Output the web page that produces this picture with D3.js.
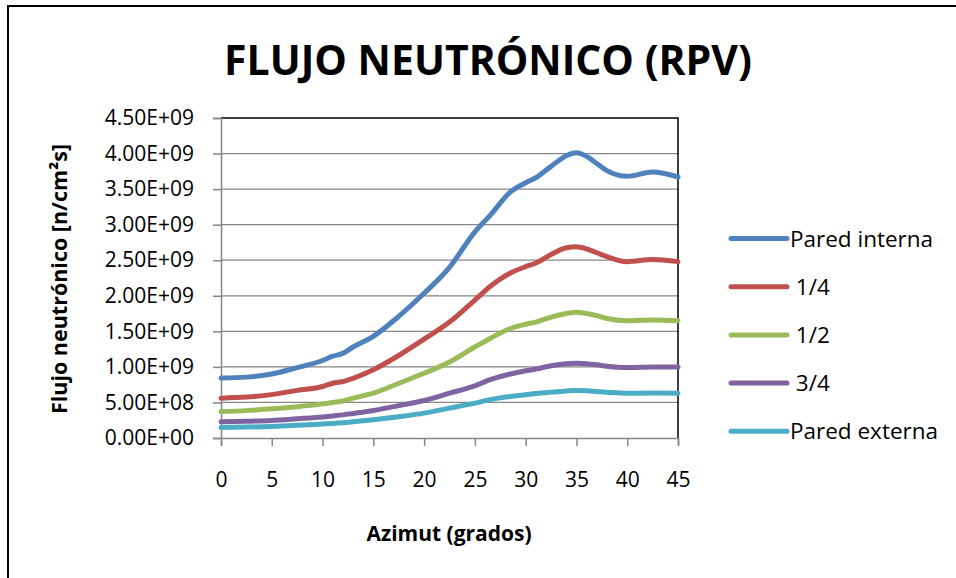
<!DOCTYPE html>
<html lang="es">
<head>
<meta charset="utf-8">
<title>Flujo neutronico</title>
<script src="https://d3js.org/d3.v7.min.js"></script>
<style>
  body { margin: 0; background: #fff; }
  text { font-family: "Open Sans", sans-serif; fill: #000; }
</style>
</head>
<body>
<div id="chart"></div>
<script>
// azimut (grados)
var azimut = [0, 2.5, 5, 7.5, 10, 11, 12, 13, 15, 17.5, 20, 22.5, 25, 26.5, 28.5, 30, 31, 32.5, 34, 35, 36, 37, 38, 40, 42.5, 45];

// flujo en unidades de 1E9 n/cm2s
var paredInterna = [0.842, 0.856, 0.90, 0.99, 1.09, 1.15, 1.19, 1.28, 1.43, 1.71, 2.035, 2.40, 2.90, 3.13, 3.46, 3.59, 3.66, 3.82, 3.97, 4.01, 3.96, 3.86, 3.76, 3.68, 3.74, 3.67];
var cuarto = [0.56, 0.575, 0.61, 0.67, 0.724, 0.77, 0.795, 0.84, 0.96, 1.16, 1.39, 1.63, 1.94, 2.13, 2.32, 2.41, 2.46, 2.58, 2.675, 2.69, 2.66, 2.605, 2.55, 2.48, 2.51, 2.48];
var medio = [0.373, 0.385, 0.41, 0.44, 0.48, 0.50, 0.52, 0.56, 0.63, 0.77, 0.91, 1.07, 1.28, 1.40, 1.54, 1.60, 1.63, 1.70, 1.75, 1.77, 1.75, 1.72, 1.68, 1.65, 1.66, 1.65];
var tresCuartos = [0.229, 0.235, 0.247, 0.27, 0.295, 0.31, 0.325, 0.345, 0.387, 0.455, 0.528, 0.63, 0.734, 0.82, 0.90, 0.945, 0.97, 1.015, 1.045, 1.05, 1.045, 1.03, 1.01, 0.99, 1.0, 1.0];
var paredExterna = [0.149, 0.153, 0.163, 0.178, 0.197, 0.205, 0.215, 0.228, 0.257, 0.30, 0.35, 0.42, 0.49, 0.54, 0.584, 0.608, 0.625, 0.645, 0.662, 0.668, 0.665, 0.655, 0.645, 0.63, 0.632, 0.63];

var seriesNames = ["Pared interna", " 1/4", " 1/2", " 3/4", "Pared externa"];
var seriesColors = ["#4F81BD", "#C0504D", "#9BBB59", "#8064A2", "#4BACC6"];
var xTicks = [0, 5, 10, 15, 20, 25, 30, 35, 40, 45];
var yTicks = [0, 0.5e9, 1e9, 1.5e9, 2e9, 2.5e9, 3e9, 3.5e9, 4e9, 4.5e9];

var width = 956, height = 578;
var plotLeft = 221, plotRight = 678, plotTop = 118, plotBottom = 438;

var svg = d3.select("#chart").append("svg")
  .attr("width", width)
  .attr("height", height);

// outer chart border
svg.append("rect")
  .attr("x", 8).attr("y", 6)
  .attr("width", 1000).attr("height", 700)
  .attr("fill", "none")
  .attr("stroke", "#000")
  .attr("stroke-width", 2);

var x = d3.scaleLinear().domain([0, 45]).range([plotLeft, plotRight]);
var y = d3.scaleLinear().domain([0, 4.5e9]).range([plotBottom, plotTop]);

// gridlines
svg.append("g")
  .selectAll("line")
  .data(yTicks.slice(1, -1))
  .enter()
  .append("line")
  .attr("x1", plotLeft).attr("x2", plotRight)
  .attr("y1", function(d) { return y(d); })
  .attr("y2", function(d) { return y(d); })
  .attr("stroke", "#868686")
  .attr("stroke-width", 1.3);

// top and right of plot area
svg.append("path")
  .attr("d", "M" + plotLeft + "," + y(4.5e9) + "H" + plotRight + "V" + plotBottom)
  .attr("fill", "none")
  .attr("stroke", "#000")
  .attr("stroke-width", 1.5);

var fmt = function(d) {
  return d3.format(".2e")(d).replace("e", "E").replace(/E([+-])(\d)$/, "E$10$2");
};

var yAxis = svg.append("g")
  .attr("transform", "translate(" + plotLeft + ",0)")
  .call(d3.axisLeft(y).tickValues(yTicks).tickSize(8).tickPadding(19).tickFormat(fmt));

var xAxis = svg.append("g")
  .attr("transform", "translate(0," + plotBottom + ")")
  .call(d3.axisBottom(x).tickValues(xTicks).tickSize(8).tickPadding(26));

[xAxis, yAxis].forEach(function(a) {
  a.select(".domain").attr("stroke", "#868686").attr("stroke-width", 1.5);
  a.selectAll(".tick line").attr("stroke", "#868686").attr("stroke-width", 1.5);
  a.selectAll(".tick text").attr("fill", "#000").attr("font-family", "Open Sans").attr("font-size", 21);
});

var allSeries = [paredInterna, cuarto, medio, tresCuartos, paredExterna];

var line = d3.line()
  .x(function(d, i) { return x(azimut[i]); })
  .y(function(d) { return y(d * 1e9); })
  .curve(d3.curveMonotoneX);

// draw back to front so the blue sits on top like the original
svg.append("g")
  .selectAll("path")
  .data(allSeries.slice().reverse())
  .enter()
  .append("path")
  .attr("d", line)
  .attr("fill", "none")
  .attr("stroke", function(d, i) { return seriesColors[4 - i]; })
  .attr("stroke-width", 5)
  .attr("stroke-linecap", "round")
  .attr("stroke-linejoin", "round");

// legend
var legend = svg.append("g").selectAll("g")
  .data(seriesNames)
  .enter()
  .append("g")
  .attr("transform", function(d, i) { return "translate(731," + (238.5 + i * 48.2) + ")"; });

legend.append("line")
  .attr("x1", 0).attr("x2", 56)
  .attr("stroke", function(d, i) { return seriesColors[i]; })
  .attr("stroke-width", 5)
  .attr("stroke-linecap", "round");

legend.append("text")
  .attr("x", 59)
  .attr("y", 8)
  .attr("font-size", 22.5)
  .style("white-space", "pre")
  .text(function(d) { return d; });

// title
svg.append("text")
  .attr("x", 488).attr("y", 75)
  .attr("text-anchor", "middle")
  .attr("font-size", 41)
  .attr("font-weight", "bold")
  .text("FLUJO NEUTRÓNICO (RPV)");

// axis titles
svg.append("text")
  .attr("transform", "translate(67,279) rotate(-90)")
  .attr("text-anchor", "middle")
  .attr("font-size", 21.5)
  .attr("font-weight", "bold")
  .text("Flujo neutrónico [n/cm²s]");

svg.append("text")
  .attr("x", 449).attr("y", 541)
  .attr("text-anchor", "middle")
  .attr("font-size", 21)
  .attr("font-weight", "bold")
  .text("Azimut (grados)");
</script>
</body>
</html>
